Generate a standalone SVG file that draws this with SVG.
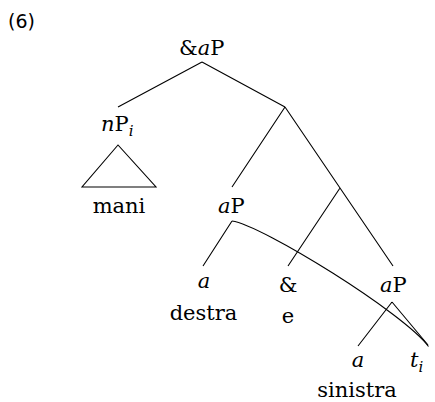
<svg xmlns="http://www.w3.org/2000/svg" width="435" height="402" viewBox="0 0 435 402">
<style>
text{font-family:"DejaVu Serif","Liberation Serif",serif;font-size:21px;fill:#000}
.it{font-style:italic}
.sub{font-style:italic;font-size:15px}
.mid{text-anchor:middle}
.ln{stroke:#000;stroke-width:1.1;fill:none}
.num{font-family:"DejaVu Sans","Liberation Sans",sans-serif;font-size:19px}
</style>
<rect width="435" height="402" fill="#fff"/>
<text class="num" x="8" y="28">(6)</text>
<g id="connectors">
<path class="ln" d="M202,62 L118,107 M202,62 L285,107 M285,107 L232,187 M285,107 L340,188 M340,188 L288,266 M340,188 L393,266 M232,221 L203,266 M392,302 L358,346 M392,302 L428,345"/>
<path class="ln" d="M118,145 L82,187 L156,187 Z"/>
<path class="ln" d="M232,221 C262,225 405,314 428.5,346.5"/>
</g>
<g id="n-root"><text x="179" y="55">&amp;<tspan class="it">a</tspan>P</text></g>
<g id="n-nP"><text x="101" y="131"><tspan class="it">n</tspan>P<tspan class="sub" dy="5">i</tspan></text></g>
<g id="n-mani"><text class="mid" x="119" y="213">mani</text></g>
<g id="n-aP1"><text x="218" y="213"><tspan class="it">a</tspan>P</text></g>
<g id="n-a1"><text class="mid it" x="204" y="288">a</text><text class="mid" x="203.5" y="320">destra</text></g>
<g id="n-amp"><text class="mid" x="288" y="292">&amp;</text><text class="mid" x="288" y="323">e</text></g>
<g id="n-aP2"><text x="380" y="292"><tspan class="it">a</tspan>P</text></g>
<g id="n-a2"><text class="mid it" x="358" y="367">a</text><text class="mid" x="357" y="397">sinistra</text></g>
<g id="n-t"><text x="410" y="367"><tspan class="it">t</tspan><tspan class="sub" dy="5">i</tspan></text></g>
</svg>
